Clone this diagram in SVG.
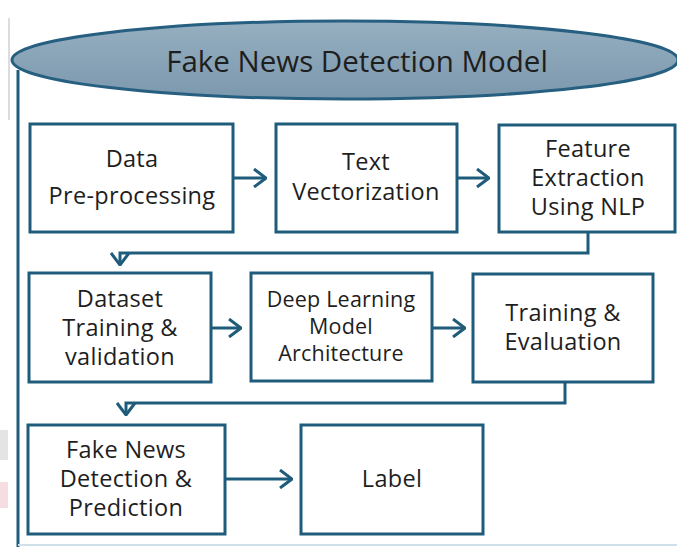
<svg xmlns="http://www.w3.org/2000/svg" width="677" height="547" viewBox="0 0 677 547">
  <defs>
    <linearGradient id="capFill" x1="0" y1="0" x2="0" y2="1">
      <stop offset="0" stop-color="#96afc1"/>
      <stop offset="1" stop-color="#7c98ad"/>
    </linearGradient>
    <marker id="chev" viewBox="0 0 14 20" refX="13" refY="10" markerWidth="14" markerHeight="20" markerUnits="userSpaceOnUse" orient="auto">
      <path d="M1,1 L13,10 L1,19" fill="none" stroke="#1f5c7c" stroke-width="3" stroke-linejoin="miter"/>
    </marker>
    <style>
      .box { fill: #ffffff; stroke: #1f5c7c; stroke-width: 3; }
      .lbl { font-family: "Open Sans", "Noto Sans", "Liberation Sans", sans-serif; font-size: 23.5px; letter-spacing: 0.3px; fill: #1e1e1e; text-anchor: middle; dominant-baseline: central; }
      .sm { font-size: 21.5px; letter-spacing: 0.2px; }
      .conn { fill: none; stroke: #1f5c7c; stroke-width: 3; }
    </style>
  </defs>
  <rect width="677" height="547" fill="#ffffff"/>

  <!-- faint margin marks at the left edge -->
  <rect x="0" y="430" width="8" height="30" fill="#e4e4e4"/>
  <rect x="0" y="482" width="8" height="26" fill="#f6dde2"/>
  <line x1="9" y1="18" x2="9" y2="120" stroke="#dcdcdc" stroke-width="2"/>

  <!-- container frame -->
  <g id="frame">
    <line x1="18" y1="70" x2="18" y2="547" stroke="#1f5c7c" stroke-width="3"/>
    <line x1="18" y1="545" x2="677" y2="545" stroke="#cfe0ea" stroke-width="2"/>
  </g>

  <!-- title cap -->
  <g id="title">
    <ellipse cx="345" cy="60" rx="333" ry="39" fill="url(#capFill)" stroke="#265f80" stroke-width="3"/>
    <text x="357" y="60" class="lbl" style="font-size:29.5px;letter-spacing:0">Fake News Detection Model</text>
  </g>

  <!-- connectors -->
  <g id="connectors">
    <line class="conn" x1="233" y1="178" x2="266" y2="178" marker-end="url(#chev)"/>
    <line class="conn" x1="457" y1="178" x2="489" y2="178" marker-end="url(#chev)"/>
    <path class="conn" d="M588,232 V253 H120 V265" marker-end="url(#chev)"/>
    <line class="conn" x1="211" y1="328" x2="241" y2="328" marker-end="url(#chev)"/>
    <line class="conn" x1="432" y1="328" x2="465" y2="328" marker-end="url(#chev)"/>
    <path class="conn" d="M565,382 V403 H126 V415" marker-end="url(#chev)"/>
    <line class="conn" x1="225" y1="479" x2="292" y2="479" marker-end="url(#chev)"/>
  </g>

  <!-- row 1 -->
  <g id="n-preprocess">
    <rect class="box" x="30" y="124" width="203" height="108"/>
    <text class="lbl" x="132" y="158">Data</text>
    <text class="lbl" x="132" y="195">Pre-processing</text>
  </g>
  <g id="n-vectorize">
    <rect class="box" x="276" y="124" width="181" height="108"/>
    <text class="lbl" x="366" y="161">Text</text>
    <text class="lbl" x="366" y="191">Vectorization</text>
  </g>
  <g id="n-features">
    <rect class="box" x="499" y="125" width="176" height="107"/>
    <text class="lbl" x="588" y="148">Feature</text>
    <text class="lbl" x="588" y="177">Extraction</text>
    <text class="lbl" x="588" y="206">Using NLP</text>
  </g>

  <!-- row 2 -->
  <g id="n-dataset">
    <rect class="box" x="29" y="273" width="182" height="109"/>
    <text class="lbl" x="120" y="298">Dataset</text>
    <text class="lbl" x="120" y="327">Training &amp;</text>
    <text class="lbl" x="120" y="356">validation</text>
  </g>
  <g id="n-model">
    <rect class="box" x="251" y="273" width="181" height="108"/>
    <text class="lbl sm" x="341" y="298">Deep Learning</text>
    <text class="lbl sm" x="341" y="325">Model</text>
    <text class="lbl sm" x="341" y="352">Architecture</text>
  </g>
  <g id="n-train">
    <rect class="box" x="473" y="274" width="180" height="108"/>
    <text class="lbl" x="563" y="312">Training &amp;</text>
    <text class="lbl" x="563" y="341">Evaluation</text>
  </g>

  <!-- row 3 -->
  <g id="n-predict">
    <rect class="box" x="28" y="425" width="197" height="109"/>
    <text class="lbl" x="126" y="449">Fake News</text>
    <text class="lbl" x="126" y="478">Detection &amp;</text>
    <text class="lbl" x="126" y="507">Prediction</text>
  </g>
  <g id="n-label">
    <rect class="box" x="301" y="425" width="182" height="109"/>
    <text class="lbl" x="392" y="478">Label</text>
  </g>
</svg>
